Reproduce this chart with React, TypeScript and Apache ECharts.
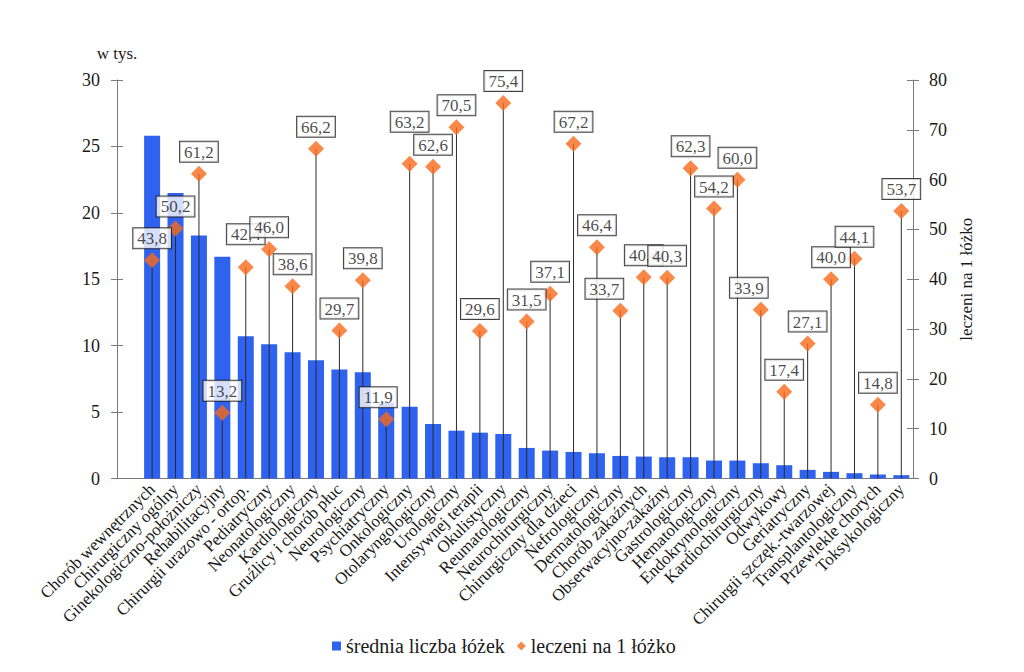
import React, { useEffect, useRef } from "react";
import * as echarts from "echarts";

const categories = [
  "Chorób wewnętrznych",
  "Chirurgiczny ogólny",
  "Ginekologiczno-położniczy",
  "Rehabilitacyjny",
  "Chirurgii urazowo - ortop.",
  "Pediatryczny",
  "Neonatologiczny",
  "Kardiologiczny",
  "Gruźlicy i chorób płuc",
  "Neurologiczny",
  "Psychiatryczny",
  "Onkologiczny",
  "Otolaryngologiczny",
  "Urologiczny",
  "Intensywnej terapii",
  "Okulistyczny",
  "Reumatologiczny",
  "Neurochirurgiczny",
  "Chirurgiczny dla dzieci",
  "Nefrologiczny",
  "Dermatologiczny",
  "Chorób zakaźnych",
  "Obserwacyjno-zakaźny",
  "Gastrologiczny",
  "Hematologiczny",
  "Endokrynologiczny",
  "Kardiochirurgiczny",
  "Odwykowy",
  "Geriatryczny",
  "Chirurgii szczęk.-twarzowej",
  "Transplantologiczny",
  "Przewlekle chorych",
  "Toksykologiczny",
];

// średnia liczba łóżek (w tys.)
const beds = [
  25.8, 21.5, 18.3, 16.7, 10.7, 10.1, 9.5, 8.9, 8.2, 8.0, 5.7, 5.4, 4.1, 3.6,
  3.45, 3.35, 2.3, 2.1, 2.0, 1.9, 1.7, 1.65, 1.6, 1.6, 1.35, 1.35, 1.15, 1.0,
  0.65, 0.5, 0.4, 0.3, 0.25,
];

// leczeni na 1 łóżko
const patientsPerBed = [
  43.8, 50.2, 61.2, 13.2, 42.4, 46.0, 38.6, 66.2, 29.7, 39.8, 11.9, 63.2, 62.6,
  70.5, 29.6, 75.4, 31.5, 37.1, 67.2, 46.4, 33.7, 40.4, 40.3, 62.3, 54.2, 60.0,
  33.9, 17.4, 27.1, 40.0, 44.1, 14.8, 53.7,
];

const leftTicks = { min: 0, max: 30, interval: 5 };
const rightTicks = { min: 0, max: 80, interval: 10 };

// label box shifts (layout only)
const labelShift: Record<number, [number, number]> = {
  4: [0, -11],
  10: [-8, 0],
  11: [0, -20],
  20: [-16, 0],
  26: [-12, 0],
};

const FONT = "Liberation Serif, Times New Roman, serif";
const AXIS_COLOR = "#7a7a7a";
const TEXT_COLOR = "#1a1a1a";
const GRID_LEFT = 140.4;
const LEFT_OFFSET = 23.4;

export default function App() {
  const ref = useRef<HTMLDivElement>(null);

  useEffect(() => {
    document.body.style.margin = "0";
    if (!ref.current) return;
    const chart = echarts.init(ref.current, undefined, { renderer: "svg" });

    const yCommon = {
      type: "value",
      splitLine: { show: false },
      axisLine: { show: true, lineStyle: { color: AXIS_COLOR, width: 1 } },
    };

    chart.setOption({
      animation: false,
      backgroundColor: "#ffffff",
      textStyle: { fontFamily: FONT },
      grid: { left: GRID_LEFT, right: 111, top: 80, bottom: 193.5 },
      legend: {
        left: 327,
        top: 631,
        itemWidth: 9,
        itemHeight: 9,
        itemGap: 12,
        textStyle: { fontFamily: FONT, fontSize: 20, color: TEXT_COLOR },
        data: [
          { name: "średnia liczba łóżek", icon: "rect" },
          { name: "leczeni na 1 łóżko", icon: "diamond" },
        ],
      },
      xAxis: [
        {
          type: "category",
          data: categories,
          boundaryGap: true,
          axisLine: { show: true, lineStyle: { color: AXIS_COLOR } },
          axisTick: { show: false },
          axisLabel: {
            interval: 0,
            rotate: 45,
            margin: 8,
            fontFamily: FONT,
            fontSize: 17,
            color: TEXT_COLOR,
          },
        },
        {
          type: "category",
          data: categories,
          boundaryGap: true,
          show: false,
          position: "top",
        },
      ],
      yAxis: [
        {
          ...yCommon,
          ...leftTicks,
          position: "left",
          offset: LEFT_OFFSET,
          axisTick: { show: true, length: 6, lineStyle: { color: AXIS_COLOR } },
          axisLabel: { margin: 17, fontFamily: FONT, fontSize: 18, color: TEXT_COLOR },
          name: "w tys.",
          nameLocation: "end",
          nameGap: 18,
          nameTextStyle: { fontFamily: FONT, fontSize: 17, color: TEXT_COLOR },
        },
        {
          ...yCommon,
          ...rightTicks,
          position: "right",
          axisTick: { show: true, length: 6, lineStyle: { color: AXIS_COLOR } },
          axisLabel: { margin: 16, fontFamily: FONT, fontSize: 18, color: TEXT_COLOR },
          name: "leczeni na 1 łóżko",
          nameLocation: "middle",
          nameGap: 31,
          nameRotate: 90,
          nameTextStyle: { fontFamily: FONT, fontSize: 17, color: TEXT_COLOR },
        },
        {
          ...yCommon,
          ...leftTicks,
          position: "left",
          offset: LEFT_OFFSET,
          axisLine: { show: false },
          axisTick: { show: true, inside: true, length: 6, lineStyle: { color: AXIS_COLOR } },
          axisLabel: { show: false },
        },
        {
          ...yCommon,
          ...rightTicks,
          position: "right",
          axisLine: { show: false },
          axisTick: { show: true, inside: true, length: 6, lineStyle: { color: AXIS_COLOR } },
          axisLabel: { show: false },
        },
      ],
      graphic: [
        {
          type: "line",
          shape: { x1: GRID_LEFT - LEFT_OFFSET, y1: 478.5, x2: GRID_LEFT, y2: 478.5 },
          style: { stroke: AXIS_COLOR, lineWidth: 1 },
          silent: true,
        },
      ],
      series: [
        {
          name: "średnia liczba łóżek",
          type: "bar",
          xAxisIndex: 0,
          yAxisIndex: 0,
          data: beds,
          barWidth: 16,
          itemStyle: { color: "#2f62ee" },
        },
        {
          name: "drop",
          type: "bar",
          xAxisIndex: 1,
          yAxisIndex: 1,
          data: patientsPerBed,
          barWidth: 1,
          silent: true,
          itemStyle: { color: "#2a2a2a" },
        },
        {
          name: "leczeni na 1 łóżko",
          type: "scatter",
          xAxisIndex: 0,
          yAxisIndex: 1,
          symbol: "diamond",
          symbolSize: 16,
          itemStyle: { color: "#f86a1c" },
          data: patientsPerBed,
          label: {
            show: true,
            position: "top",
            distance: 4,
            formatter: (p: any) => Number(p.value).toFixed(1).replace(".", ","),
            backgroundColor: "#ffffff",
            borderColor: "#111111",
            borderWidth: 1,
            padding: [2, 4, 1, 4],
            fontFamily: FONT,
            fontSize: 17,
            color: TEXT_COLOR,
          },
          labelLayout: (p: any) => {
            const s = labelShift[p.dataIndex];
            return s ? { dx: s[0], dy: s[1], hideOverlap: false } : { hideOverlap: false };
          },
        },
      ],
    });

    return () => chart.dispose();
  }, []);

  return <div ref={ref} style={{ width: 1024, height: 672 }} />;
}
